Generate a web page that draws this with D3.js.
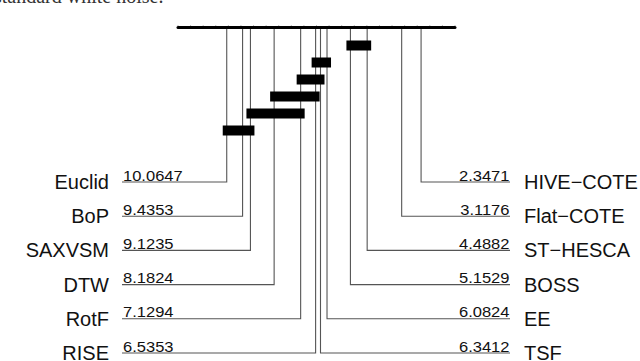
<!DOCTYPE html>
<html>
<head>
<meta charset="utf-8">
<script src="https://cdn.jsdelivr.net/npm/d3@7/dist/d3.min.js"></script>
<style>
  html, body { margin: 0; padding: 0; background: #fff; }
  svg { display: block; }
</style>
</head>
<body>
<svg id="chart" width="640" height="361"></svg>
<script>
// ---- data ----
const methods = ["Euclid", "BoP", "SAXVSM", "DTW", "RotF", "RISE",
                 "TSF", "EE", "BOSS", "ST\u2212HESCA", "Flat\u2212COTE", "HIVE\u2212COTE"];
const avgRanks = [10.0647, 9.4353, 9.1235, 8.1824, 7.1294, 6.5353,
                  6.3412, 6.0824, 5.1529, 4.4882, 3.1176, 2.3471];
// cliques (groups not significantly different), as [first method, last method]
const cliqueFrom = ["BOSS", "EE", "TSF", "RISE", "RotF", "SAXVSM"];
const cliqueTo   = ["ST\u2212HESCA", "RISE", "RotF", "DTW", "SAXVSM", "Euclid"];
const rankDomain = [12, 1];
const caption = "standard white noise.";

// ---- drawing ----
const svg = d3.select("#chart");
const x = d3.scaleLinear().domain(rankDomain).range([178, 455]);
const rankOf = name => avgRanks[methods.indexOf(name)];
const fmt = d3.format(".4f");
const lineColor = "#555";
const axisY = 27.5;

// caption fragment cropped at top
svg.append("text")
  .attr("x", -6).attr("y", 3)
  .attr("font-family", "Liberation Serif, serif")
  .attr("font-size", 20)
  .attr("fill", "#333")
  .text(caption);

// axis minor ticks
const ticks = d3.range(1, 12.01, 0.5);
svg.selectAll("line.tick").data(ticks).join("line")
  .attr("class", "tick")
  .attr("x1", d => x(d)).attr("x2", d => x(d))
  .attr("y1", axisY - 2.5).attr("y2", axisY)
  .attr("stroke", "#aaa").attr("stroke-width", 0.8);

// axis line
svg.append("line")
  .attr("x1", x(rankDomain[0])).attr("x2", x(rankDomain[1]))
  .attr("y1", axisY).attr("y2", axisY)
  .attr("stroke", "#000").attr("stroke-width", 3)
  .attr("stroke-linecap", "round");

// rows: the 6 worst on the left, the 6 best on the right
const nLeft = 6;
const rowY = i => 182 + i * 34.2;
const rows = methods.map((m, i) => {
  const left = i < nLeft;
  const row = left ? i : (methods.length - 1 - i);
  return { name: m, rank: avgRanks[i], left, y: rowY(row) };
});

const g = svg.append("g");
// connector lines
g.selectAll("path.conn").data(rows).join("path")
  .attr("class", "conn")
  .attr("d", d => {
    const vx = x(d.rank);
    const hx = d.left ? 122 : 510;
    return `M${vx},${axisY + 1.5}V${d.y}H${hx}`;
  })
  .attr("fill", "none")
  .attr("stroke", lineColor)
  .attr("stroke-width", 1.1);

// rank numbers (slightly wide font)
g.selectAll("text.num").data(rows).join("text")
  .attr("class", "num")
  .attr("transform", d => `translate(${d.left ? 123 : 509.5},${d.y - 1.5}) scale(1.14,1)`)
  .attr("text-anchor", d => d.left ? "start" : "end")
  .attr("font-family", "Liberation Sans, Arial, sans-serif")
  .attr("font-size", 14.5)
  .attr("fill", "#111")
  .text(d => fmt(d.rank));

// method names
g.selectAll("text.name").data(rows).join("text")
  .attr("class", "name")
  .attr("x", d => d.left ? 109 : 524)
  .attr("y", d => d.y + 7)
  .attr("text-anchor", d => d.left ? "end" : "start")
  .attr("font-family", "Liberation Sans, Arial, sans-serif")
  .attr("font-size", 20)
  .attr("fill", "#111")
  .text(d => d.name);

// clique bars
const cliques = cliqueFrom.map((a, i) => {
  const r1 = rankOf(a), r2 = rankOf(cliqueTo[i]);
  return { lo: Math.min(r1, r2), hi: Math.max(r1, r2), i };
});
svg.selectAll("rect.clique").data(cliques).join("rect")
  .attr("class", "clique")
  .attr("x", d => x(d.hi) - 4)
  .attr("width", d => x(d.lo) - x(d.hi) + 8)
  .attr("y", d => 45.5 + d.i * 17 - 5)
  .attr("height", 10)
  .attr("fill", "#000");
</script>
</body>
</html>
